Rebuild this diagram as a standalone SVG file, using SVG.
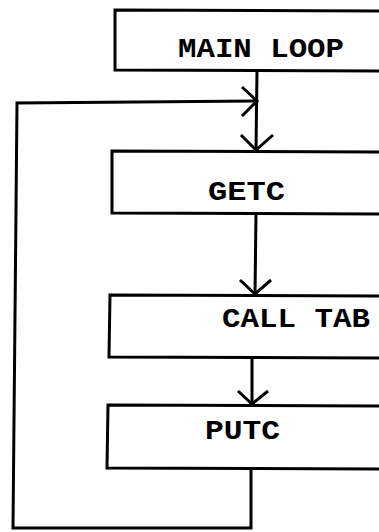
<svg xmlns="http://www.w3.org/2000/svg" width="379" height="532" viewBox="0 0 379 532">
<style>
.box{fill:#fff;stroke:#000;stroke-width:3}
.ln{fill:none;stroke:#000;stroke-width:3;stroke-linejoin:miter}
.t{font-family:"Liberation Mono","Courier New",monospace;font-weight:bold;font-size:27px;fill:#000}
</style>
<rect width="379" height="532" fill="#fff"/>
<g id="main-loop"><path class="box" d="M385 11 L115 10 L115 70 L385 71"/><text class="t" x="178" y="57" textLength="166" lengthAdjust="spacingAndGlyphs">MAIN LOOP</text></g>
<g id="getc"><path class="box" d="M385 152 L112 151 L112 213 L385 214"/><text class="t" x="208" y="200" textLength="77" lengthAdjust="spacingAndGlyphs">GETC</text></g>
<g id="call-tab"><path class="box" d="M385 296 L110 295 L109 357 L385 358"/><text class="t" x="222" y="327" textLength="148" lengthAdjust="spacingAndGlyphs">CALL TAB</text></g>
<g id="putc"><path class="box" d="M385 406 L108 405 L107 468 L385 469"/><text class="t" x="205" y="439" textLength="75" lengthAdjust="spacingAndGlyphs">PUTC</text></g>
<g id="connectors">
<path class="ln" d="M257 70 L256 151"/>
<path class="ln" d="M241 135 L256 150 L273 135"/>
<path class="ln" d="M256 213 L255 295"/>
<path class="ln" d="M240 280 L255 294 L271 280"/>
<path class="ln" d="M252 357 L252 405"/>
<path class="ln" d="M238 391 L252 404 L268 391"/>
<path class="ln" d="M251 468 L251 528 L13 528 L17 103 L257 101"/>
<path class="ln" d="M242 87 L257 101 L242 116"/>
</g>
</svg>
